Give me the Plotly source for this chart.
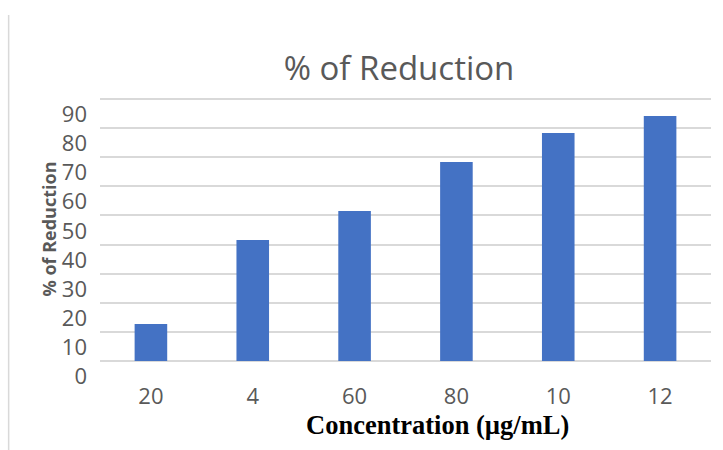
import plotly.graph_objects as go

categories = ["20", "4", "60", "80", "10", "12"]
values = [12.7, 41.6, 51.5, 68.4, 78.3, 84.2]
y_ticks = [0, 10, 20, 30, 40, 50, 60, 70, 80, 90]

fig = go.Figure()
fig.add_trace(go.Bar(x=categories, y=values, marker_color="#4472C4", marker_line_width=0))

fig.update_layout(
    width=723, height=450,
    margin=dict(l=99.5, r=11.5, t=97, b=89),
    paper_bgcolor="white", plot_bgcolor="white",
    bargap=0.68,
    showlegend=False,
    title=dict(text="% of Reduction", x=(399 - 99.5) / 612, xref="paper", xanchor="center",
               y=(450 - 68) / 450, yanchor="middle",
               font=dict(family="Open Sans", size=33, color="#595959")),
)
fig.update_xaxes(
    type="category", showgrid=False, showline=False, zeroline=False,
    tickfont=dict(family="Open Sans", size=22, color="#595959"),
    ticks="", ticklabelstandoff=20,
)
fig.update_yaxes(
    range=[0, 90.7], tickvals=y_ticks, showgrid=True, gridcolor="#d9d9d9", gridwidth=1.5,
    zeroline=True, zerolinecolor="#d9d9d9", zerolinewidth=1.5, showline=False,
    tickfont=dict(family="Open Sans", size=22, color="#595959"),
    ticks="", ticklabelposition="outside bottom", ticklabelstandoff=12,
    title=dict(text="% of Reduction", standoff=0,
               font=dict(family="Open Sans", size=18, color="#595959", weight="bold")),
)
fig.add_annotation(text="<b>Concentration (µg/mL)</b>", xref="paper", yref="paper",
                   x=(438 - 99.5) / 612, y=(361 - 425) / 264, xanchor="center", yanchor="middle",
                   showarrow=False,
                   font=dict(family="Liberation Serif", size=26.5, color="black"))
fig.add_shape(type="line", xref="paper", yref="paper",
              x0=(8 - 99.5) / 612, x1=(8 - 99.5) / 612,
              y0=(361 - 15) / 264, y1=(361 - 450) / 264,
              line=dict(color="#d9d9d9", width=1.5))

fig.write_html("out.html")
